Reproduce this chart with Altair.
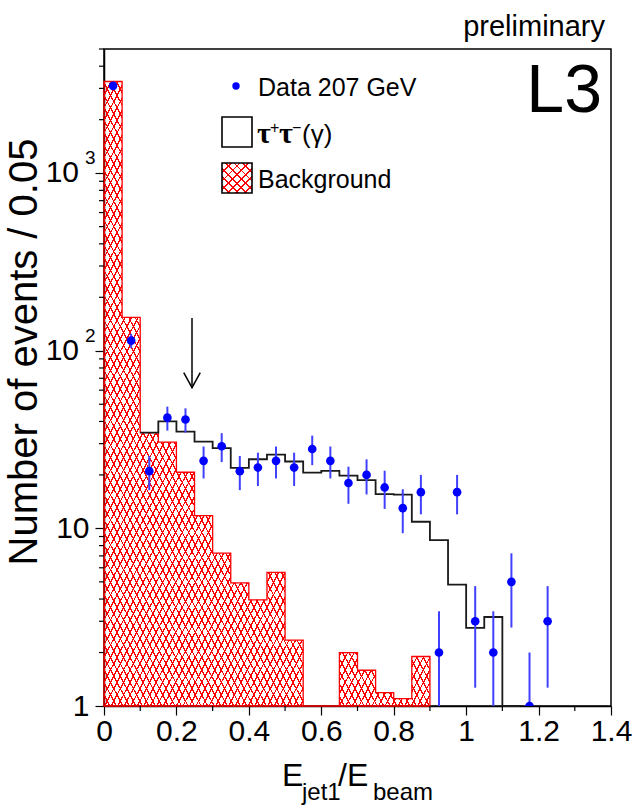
import altair as alt
import pandas as pd
import numpy as np

# ---------------- data ----------------
# Data 207 GeV: bin centres and event counts
data_x = [0.025, 0.075, 0.125, 0.175, 0.225, 0.275, 0.325, 0.375, 0.425, 0.475,
          0.525, 0.575, 0.625, 0.675, 0.725, 0.775, 0.825, 0.875, 0.925, 0.975,
          1.025, 1.075, 1.125, 1.175, 1.225]
data_n = [3100, 114, 21, 42, 41, 24, 29, 21, 22, 24,
          22, 28, 24, 18, 20, 17, 13, 16, 2, 16,
          3, 2, 5, 1, 3]

# Background histogram (bin low edges, contents)
bkg_lo = [0.00, 0.05, 0.10, 0.15, 0.20, 0.25, 0.30, 0.35, 0.40, 0.45,
          0.50, 0.55, 0.60, 0.65, 0.70, 0.75, 0.80, 0.85]
bkg_val = [3280, 154, 34.6, 30.6, 20.7, 11.8, 7.25, 4.93, 3.96, 5.66,
           2.35, 0, 0, 2.0, 1.59, 1.19, 1.10, 1.90]

# tau+tau-(gamma) + background (bin low edges, contents)
tot_lo = [0.10, 0.15, 0.20, 0.25, 0.30, 0.35, 0.40, 0.45, 0.50, 0.55,
          0.60, 0.65, 0.70, 0.75, 0.80, 0.85, 0.90, 0.95, 1.00, 1.05, 1.10]
tot_val = [34.6, 40.0, 35.1, 30.8, 28.3, 21.9, 24.5, 26.0, 23.8, 20.6,
           21.1, 19.8, 18.7, 15.6, 15.5, 10.9, 8.58, 4.82, 2.75, 3.17, 0]

bin_w = 0.05
cut_x = 0.243          # arrow position
cut_top, cut_tip = 153, 62

x_major = [0, 0.2, 0.4, 0.6, 0.8, 1, 1.2, 1.4]
x_minor = [0.1, 0.3, 0.5, 0.7, 0.9, 1.1, 1.3]
y_major = [1, 10, 100, 1000]
y_minor = [2, 3, 4, 5, 6, 7, 8, 9, 20, 30, 40, 50, 60, 70, 80, 90,
           200, 300, 400, 500, 600, 700, 800, 900, 2000, 3000, 4000, 5000]

# ---------------- styling ----------------
W, H = 507, 657
YMIN, YMAX = 1, 5000
FONT = "Liberation Sans"
RED = "#ff0000"
BLUE = "#0000ff"

xs = alt.Scale(domain=[0, 1.4], nice=False, zero=False)
ys = alt.Scale(type="log", domain=[YMIN, YMAX], nice=False)


def stripes(n, frac, color, x1, y1, x2, y2):
    clear = "rgba(255,255,255,0)"
    p = 1.0 / n
    stops = []
    for k in range(n):
        a = k * p
        b = a + frac * p
        c = min((k + 1) * p, 1.0)
        stops += [{"offset": round(a, 6), "color": color},
                  {"offset": round(b, 6), "color": color},
                  {"offset": round(b, 6), "color": clear},
                  {"offset": round(c, 6), "color": clear}]
    return {"gradient": "linear", "x1": x1, "y1": y1, "x2": x2, "y2": y2,
            "stops": stops}


# ---------------- tables ----------------
edges = bkg_lo + [bkg_lo[-1] + bin_w]
vals = bkg_val + [bkg_val[-1]]
bkg_df = pd.DataFrame({"x": edges, "y": [max(v, YMIN) for v in vals],
                       "y0": [YMIN] * len(edges)})

tedges = tot_lo + [tot_lo[-1] + bin_w]
tvals = tot_val + [tot_val[-1]]
tot_df = pd.DataFrame({"x": tedges, "y": [max(v, YMIN) for v in tvals]})

n = np.array(data_n, dtype=float)
err = np.sqrt(n)
pts_df = pd.DataFrame({"x": data_x, "n": n,
                       "lo": np.maximum(n - err, YMIN), "hi": n + err})

# hatch geometry (pixels) of the background area's bounding box
px_w = (edges[-1] - 0) / 1.4 * W
top_px = H * (1 - np.log10(max(bkg_val)) / np.log10(YMAX))
px_h = H - top_px
span = 2 * px_w * px_h / np.hypot(px_w, px_h)
period = 5.8
n_str = int(round(span / period))
fr = 1.25 / period
hatchA = stripes(n_str, fr, RED, 0, 0, 1, 1)
hatchB = stripes(n_str, fr, RED, 1, 0, 0, 1)

# ---------------- axes ----------------
X_AX = alt.Axis(values=x_major, format="~g", tickSize=9, tickWidth=1.2,
                tickColor="black", labelFontSize=30, labelFont=FONT,
                labelColor="black", labelPadding=1, labelFlush=False,
                labelOverlap=False, domainColor="black", domainWidth=1.5,
                grid=False, title=None)
Y_AX = alt.Axis(values=y_major, tickSize=9, tickWidth=1.2, tickColor="black",
                labelExpr="datum.value == 1 ? '1' : (datum.value == 10 ? '10' : '')",
                labelFontSize=30, labelFont=FONT, labelColor="black",
                labelPadding=6, labelFlush=False, labelOverlap=False,
                domainColor="black", domainWidth=1.5, grid=False, title=None)


def X(f):
    return alt.X(f, scale=xs, axis=X_AX)


def Y(f):
    return alt.Y(f, scale=ys, axis=Y_AX)


# ---------------- layers ----------------
bkgA = alt.Chart(bkg_df).mark_area(interpolate="step-after", fill=hatchA,
                                   strokeWidth=0).encode(
    x=X("x:Q"), y=Y("y:Q"), y2="y0:Q")
bkgB = alt.Chart(bkg_df).mark_area(interpolate="step-after", fill=hatchB,
                                   stroke=RED, strokeWidth=1.3).encode(
    x=X("x:Q"), y=Y("y:Q"), y2="y0:Q")

tot_line = alt.Chart(tot_df).mark_line(interpolate="step-after", color="#1a1a1a",
                                       strokeWidth=1.8).encode(
    x=X("x:Q"), y=Y("y:Q"))

errs = alt.Chart(pts_df).mark_rule(color="#4040ff", strokeWidth=2, clip=True).encode(
    x=X("x:Q"), y=Y("lo:Q"), y2="hi:Q")
dots = alt.Chart(pts_df).mark_circle(color=BLUE, size=75, opacity=1, clip=True).encode(
    x=X("x:Q"), y=Y("n:Q"))

arrow_df = pd.DataFrame({"x": [cut_x], "top": [cut_top], "tip": [cut_tip]})
arrow_shaft = alt.Chart(arrow_df).mark_rule(color="black", strokeWidth=1.5).encode(
    x=X("x:Q"), y=Y("top:Q"), y2="tip:Q")
arrow_head = alt.Chart(arrow_df).mark_point(
    shape="M -0.55 -1 L 0 0 L 0.55 -1", size=900, filled=False,
    stroke="black", strokeWidth=1.5, opacity=1).encode(
    x=X("x:Q"), y=Y("tip:Q"))

ymin_df = pd.DataFrame({"v": y_minor})
y_minor_ticks = alt.Chart(ymin_df).mark_rule(color="black", strokeWidth=1.2).encode(
    x=alt.value(-5), x2=alt.value(0), y=Y("v:Q"))
xmin_df = pd.DataFrame({"v": x_minor})
x_minor_ticks = alt.Chart(xmin_df).mark_rule(color="black", strokeWidth=1.2).encode(
    y=alt.value(H), y2=alt.value(H + 5), x=X("v:Q"))

one = alt.Data(values=[{"k": 0}])


def txt(text, x, y, size, align="left", baseline="alphabetic", angle=0,
        font=FONT, weight="normal"):
    return alt.Chart(one).mark_text(
        text=text, align=align, baseline=baseline, fontSize=size, font=font,
        fontWeight=weight, angle=angle, color="black").encode(
        x=alt.value(x), y=alt.value(y))


# y labels 10^2 and 10^3
sup_df = pd.DataFrame({"v": [100, 1000], "s": ["2", "3"]})
ten = alt.Chart(sup_df).mark_text(text="10", align="right", baseline="middle",
                                  fontSize=30, font=FONT, color="black").encode(
    x=alt.value(-25), y=Y("v:Q"))
sup = alt.Chart(sup_df).mark_text(align="left", baseline="middle", dy=-15,
                                  fontSize=19, font=FONT, color="black").encode(
    x=alt.value(-19), y=Y("v:Q"), text="s:N")

# legend
leg_dot = alt.Chart(one).mark_circle(color=BLUE, size=55, opacity=1).encode(
    x=alt.value(132), y=alt.value(37))
tau_box = alt.Chart(one).mark_rect(fill="white", stroke="black", strokeWidth=1.6).encode(
    x=alt.value(118), x2=alt.value(148), y=alt.value(68), y2=alt.value(98))
lw, lh = 30, 30
lspan = 2 * lw * lh / np.hypot(lw, lh)
ln = max(int(round(lspan / period)), 1)
bkg_boxA = alt.Chart(one).mark_rect(fill=stripes(ln, fr, RED, 0, 0, 1, 1)).encode(
    x=alt.value(118), x2=alt.value(148), y=alt.value(114), y2=alt.value(144))
bkg_boxB = alt.Chart(one).mark_rect(fill=stripes(ln, fr, RED, 1, 0, 0, 1),
                                    stroke="black", strokeWidth=1.6).encode(
    x=alt.value(118), x2=alt.value(148), y=alt.value(114), y2=alt.value(144))

texts = [
    txt("Data 207 GeV", 154, 47, 25),
    txt("τ", 153, 94, 30, font="Liberation Serif", weight="bold"),
    txt("+", 166, 84, 16),
    txt("τ", 175, 94, 30, font="Liberation Serif", weight="bold"),
    txt("−", 188, 84, 16),
    txt("(γ)", 198, 94, 26),
    txt("Background", 154, 139, 25),
    txt("L3", 498, 63, 68, align="right"),
    txt("preliminary", 501, -13, 29, align="right"),
    txt("Number of events / 0.05", -67, 303, 40, align="center", angle=270),
    txt("E", 178, 737, 32),
    txt("jet1", 198, 751, 24),
    txt("/E", 234, 737, 32),
    txt("beam", 269, 751, 24),
]

chart = alt.layer(
    bkgA, bkgB, tot_line, errs, dots, arrow_shaft, arrow_head,
    y_minor_ticks, x_minor_ticks, ten, sup,
    leg_dot, tau_box, bkg_boxA, bkg_boxB, *texts
).properties(
    width=W, height=H,
    autosize=alt.AutoSizeParams(type="none"),
    padding={"left": 104, "top": 49, "right": 23, "bottom": 100},
    background="white",
).configure_view(stroke="black", strokeWidth=1.5)

chart.save("out.html", embed_options={"renderer": "svg", "actions": False})
